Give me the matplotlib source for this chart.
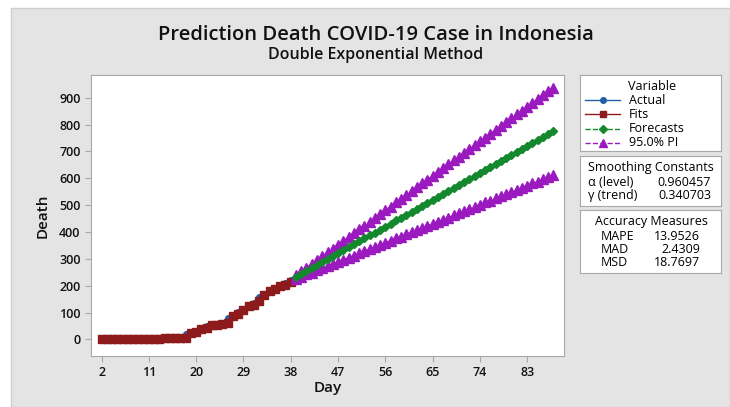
import matplotlib
matplotlib.use("Agg")
import matplotlib.pyplot as plt
from matplotlib.patches import Rectangle
from matplotlib.lines import Line2D

plt.rcParams['font.family'] = ['Open Sans', 'DejaVu Sans']

# データ
actual_days = list(range(2, 39))
actual = [0, 0, 0, 0, 0, 0, 0, 0, 0, 1, 1, 4, 5, 5, 5, 5, 19, 25, 32, 38, 48, 49,
          55, 58, 78, 87, 102, 114, 122, 136, 157, 170, 181, 191, 198, 209, 221]
fits = [0, 0, 0, 0, 0, 0, 0, 0, 0, 0, 1.3, 1.2, 5, 5.7, 5.3, 5.1, 5, 24, 29, 37, 43, 55,
        52, 58, 60, 86, 94, 111, 123, 129, 143, 167, 179, 189, 198, 203, 214]

fc_days = list(range(39, 89))
forecast = [232, 243, 254, 265, 276, 287, 298, 310, 321, 332, 343, 354, 365, 376, 387,
            398, 409, 420, 431, 443, 454, 465, 476, 487, 498, 509, 520, 531, 542, 553,
            564, 576, 587, 598, 609, 620, 631, 642, 653, 664, 675, 686, 697, 708, 720,
            731, 742, 753, 764, 775]
upper = [238, 253, 267, 281, 295, 310, 324, 338, 352, 367, 381, 395, 410, 424, 438,
         452, 467, 481, 495, 510, 524, 538, 552, 567, 581, 595, 609, 624, 638, 652,
         667, 681, 695, 709, 724, 738, 752, 767, 781, 795, 809, 824, 838, 852, 867,
         881, 895, 909, 924, 938]
lower = [226, 234, 242, 249, 257, 265, 273, 281, 289, 297, 305, 312, 320, 328, 336,
         344, 352, 360, 368, 376, 383, 391, 399, 407, 415, 423, 431, 439, 446, 454,
         462, 470, 478, 486, 494, 502, 510, 517, 525, 533, 541, 549, 557, 565, 573,
         581, 588, 596, 604, 612]

x_ticks = [2, 11, 20, 29, 38, 47, 56, 65, 74, 83]
y_ticks = [0, 100, 200, 300, 400, 500, 600, 700, 800, 900]

smoothing = [("α (level)", "0.960457"), ("γ (trend)", "0.340703")]
accuracy = [("MAPE", "13.9526"), ("MAD", "2.4309"), ("MSD", "18.7697")]

c_actual = "#1f5fa8"
c_fits = "#8e1b1b"
c_fc = "#13882c"
c_pi = "#9a1ac0"
bg = "#e4e4e4"
edge = "#a8a8a8"

W, H = 730, 407
fig = plt.figure(figsize=(W / 100, H / 100), dpi=100)
fig.patch.set_facecolor("white")


def box(x0, y0, x1, y1):
    # ピクセル座標 -> figure座標
    return [x0 / W, 1 - y1 / H, (x1 - x0) / W, (y1 - y0) / H]


# 背景パネル
fig.patches.append(Rectangle((11 / W, 0), 1 - 11 / W, 1 - 8 / H, transform=fig.transFigure,
                             facecolor=bg, edgecolor="#cfcfcf", lw=1, zorder=-5))

ax = fig.add_axes(box(91, 75, 564, 356))
ax.set_facecolor("white")
ax.plot(actual_days, actual, color=c_actual, marker="o", ms=4, lw=1, zorder=3)
ax.plot(actual_days, fits, color=c_fits, marker="s", ms=5.5, lw=1, zorder=4)
ax.plot(fc_days, upper, color=c_pi, marker="^", ms=6.5, lw=1, ls="--", zorder=5)
ax.plot(fc_days, lower, color=c_pi, marker="^", ms=6.5, lw=1, ls="--", zorder=5)
ax.plot(fc_days, forecast, color=c_fc, marker="D", ms=4.5, lw=1, ls="--", zorder=6)

ax.set_xlim(0, 90)
ax.set_ylim(-62, 985)
ax.set_xticks(x_ticks)
ax.set_yticks(y_ticks)
for s in ax.spines.values():
    s.set_color(edge)
ax.tick_params(colors=edge, labelcolor="#111111", labelsize=9, length=4, direction="out")
for lab in ax.get_xticklabels() + ax.get_yticklabels():
    lab.set_fontweight("semibold")
ax.set_xlabel("Day", fontsize=11, fontweight="semibold", color="#111111", labelpad=1)
ax.set_ylabel("Death", fontsize=11, fontweight="semibold", color="#111111", labelpad=7)

fig.text(376 / W, 1 - 35 / H, "Prediction Death COVID-19 Case in Indonesia", ha="center",
         va="center", fontsize=14.5, fontweight="semibold", color="#111111")
fig.text(376 / W, 1 - 55 / H, "Double Exponential Method", ha="center", va="center",
         fontsize=11.5, fontweight="semibold", color="#111111")


def panel(x0, y0, x1, y1):
    p = fig.add_axes(box(x0, y0, x1, y1))
    p.set_xlim(x0, x1)
    p.set_ylim(y1, y0)
    p.set_xticks([])
    p.set_yticks([])
    p.set_facecolor("white")
    for s in p.spines.values():
        s.set_color(edge)
    return p


fs = 9
# 凡例
lg = panel(580, 75, 721, 151)
lg.text(652, 86, "Variable", ha="center", va="center", fontsize=fs)
entries = [("Actual", c_actual, "o", "-", 4),
           ("Fits", c_fits, "s", "-", 5),
           ("Forecasts", c_fc, "D", "--", 4.5),
           ("95.0% PI", c_pi, "^", "--", 6)]
for i, (name, col, mk, ls, ms) in enumerate(entries):
    yy = 100 + i * 14.3
    lg.add_line(Line2D([585, 620], [yy, yy], color=col, ls=ls, lw=1))
    lg.plot([603], [yy], marker=mk, color=col, ms=ms)
    lg.text(629, yy, name, ha="left", va="center", fontsize=fs)

sm = panel(580, 156, 721, 206)
sm.text(651, 168, "Smoothing Constants", ha="center", va="center", fontsize=fs)
for i, (k, v) in enumerate(smoothing):
    yy = 182 + i * 13
    sm.text(588, yy, k, ha="left", va="center", fontsize=fs)
    sm.text(711, yy, v, ha="right", va="center", fontsize=fs)

am = panel(580, 210, 721, 273)
am.text(651, 222, "Accuracy Measures", ha="center", va="center", fontsize=fs)
for i, (k, v) in enumerate(accuracy):
    yy = 236 + i * 13.5
    am.text(601, yy, k, ha="left", va="center", fontsize=fs)
    am.text(700, yy, v, ha="right", va="center", fontsize=fs)

fig.savefig("out.png", dpi=100)
